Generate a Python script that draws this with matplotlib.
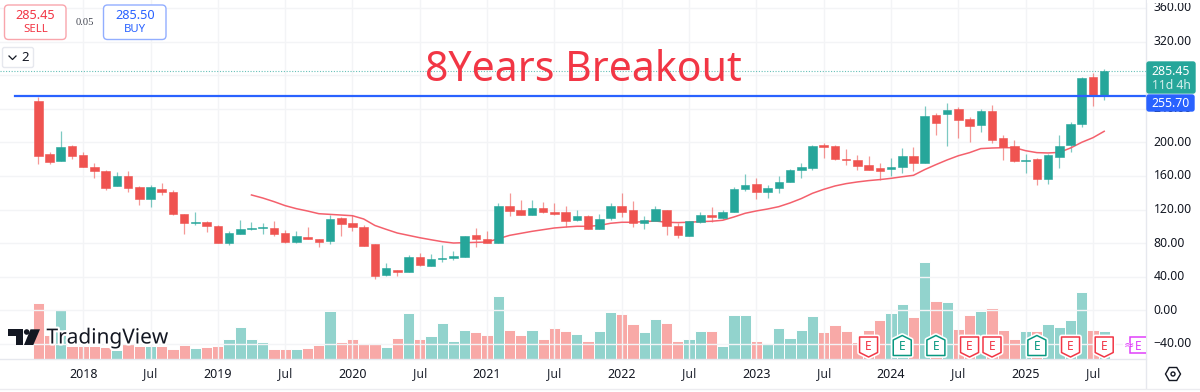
import matplotlib
matplotlib.use("Agg")
import matplotlib.pyplot as plt
import matplotlib.patheffects as pe
from matplotlib.patches import FancyBboxPatch, Polygon, Rectangle, Circle, RegularPolygon
import numpy as np

# monthly candles, Sep 2017 .. Aug 2025
opens = [249.6, 186.5, 177.8, 195.2, 184.5, 170.6, 165.9, 147.6, 160.3, 147.2, 132.5, 144.8,
         140.9, 114.7, 104.3, 105.2, 100.4, 80.2, 91.3, 97.2, 97.6, 98.4, 91.7, 81.8,
         87.2, 84.9, 82.1, 109.8, 103.5, 99.1, 78.9, 42.0, 47.9, 46.0, 63.4, 52.7,
         61.4, 62.2, 63.8, 89.6, 84.9, 80.1, 123.7, 119.4, 113.4, 121.4, 117.4, 116.6,
         107.5, 112.2, 96.8, 109.5, 124.6, 119.0, 104.0, 106.7, 119.0, 100.4, 88.5, 105.6,
         113.9, 109.9, 116.7, 144.8, 150.0, 140.9, 145.2, 153.2, 167.0, 169.4, 196.8, 196.0,
         180.2, 179.0, 173.4, 169.8, 168.3, 170.2, 183.3, 175.4, 232.9, 234.1, 239.3, 228.2,
         221.0, 236.9, 204.8, 195.2, 178.2, 180.5, 156.3, 182.9, 196.4, 222.2, 278.2, 255.9]
closes = [183.7, 177.0, 194.4, 183.7, 170.6, 165.9, 145.2, 159.5, 146.0, 132.5, 146.4, 140.9,
          114.3, 104.0, 105.2, 100.0, 80.2, 92.1, 96.8, 98.0, 99.2, 90.9, 81.0, 88.5,
          84.5, 81.3, 109.0, 102.3, 99.1, 76.9, 41.2, 49.9, 45.2, 63.0, 53.5, 61.0,
          62.2, 64.6, 88.0, 84.5, 80.1, 123.7, 118.2, 113.4, 121.4, 116.6, 115.0, 106.7,
          112.6, 96.4, 109.1, 123.8, 116.7, 104.4, 107.2, 120.6, 100.8, 89.3, 106.0, 113.9,
          111.1, 116.7, 144.8, 149.6, 140.5, 145.6, 153.2, 167.0, 170.2, 196.0, 194.4, 180.2,
          179.4, 172.2, 167.0, 165.5, 170.6, 183.7, 175.0, 231.3, 223.4, 238.5, 226.6, 219.4,
          237.7, 203.2, 194.0, 177.4, 179.0, 156.3, 184.5, 196.0, 222.2, 276.6, 255.9, 285.45]
highs = [254.4, 188.9, 213.9, 196.8, 188.9, 175.0, 167.0, 164.3, 165.9, 147.6, 149.2, 152.0,
         143.3, 114.7, 116.7, 105.9, 101.2, 94.0, 107.1, 105.2, 103.6, 106.0, 95.2, 94.0,
         98.7, 85.0, 113.8, 110.6, 113.8, 101.1, 79.3, 56.3, 48.3, 65.8, 68.6, 66.6,
         77.3, 70.2, 88.8, 97.6, 94.4, 127.3, 139.6, 131.3, 131.3, 128.9, 128.1, 124.1,
         119.0, 113.0, 115.0, 127.4, 139.3, 129.8, 112.3, 124.6, 119.4, 104.4, 106.4, 116.7,
         123.0, 119.0, 147.2, 162.3, 157.9, 148.8, 159.9, 168.3, 175.0, 196.4, 199.6, 196.8,
         192.0, 184.5, 183.3, 175.0, 181.4, 193.6, 194.4, 243.2, 234.5, 247.2, 242.4, 229.8,
         240.0, 244.8, 208.7, 202.8, 186.1, 180.9, 186.1, 208.3, 223.8, 278.2, 282.1, 286.9]
lows = [174.2, 174.2, 177.8, 179.8, 170.2, 157.5, 143.7, 147.6, 141.3, 125.8, 123.4, 137.3,
        113.9, 91.3, 101.2, 93.3, 80.2, 77.8, 91.3, 95.6, 90.9, 88.5, 80.6, 80.6,
        84.5, 75.7, 79.3, 88.4, 95.0, 76.9, 37.2, 41.2, 41.2, 46.0, 53.1, 52.3,
        57.9, 59.9, 63.8, 75.7, 79.7, 80.1, 112.6, 113.0, 113.4, 116.2, 113.8, 98.7,
        106.3, 96.4, 96.4, 108.0, 111.5, 98.8, 97.2, 106.7, 89.7, 86.1, 88.5, 104.0,
        105.6, 109.1, 116.7, 142.5, 133.0, 134.1, 140.1, 153.2, 157.5, 167.0, 181.4, 178.6,
        173.4, 167.0, 166.7, 154.8, 160.3, 163.0, 166.3, 175.4, 208.3, 195.6, 205.1, 200.4,
        212.7, 199.2, 179.4, 177.0, 163.0, 149.2, 150.0, 169.8, 188.9, 218.6, 243.6, 250.4]
# 20 month average, starts at month 19
ma_start = 19
ma20 = [137.3, 133.7, 129.4, 124.6, 121.0, 118.2, 115.0, 114.2, 113.4, 112.6, 108.7, 101.0,
        96.4, 92.0, 89.2, 86.4, 84.0, 81.7, 80.1, 80.5, 80.9, 81.3, 85.2, 89.2,
        91.6, 94.0, 96.0, 98.0, 99.1, 100.0, 100.0, 101.0, 103.6, 104.8, 104.8, 105.6,
        106.3, 104.8, 104.4, 104.8, 105.6, 106.0, 107.2, 111.1, 115.5, 118.3, 120.6, 123.4,
        127.8, 133.0, 139.3, 144.0, 148.0, 150.8, 152.8, 154.4, 155.6, 157.1, 159.0, 160.7,
        167.5, 173.4, 179.0, 184.0, 187.7, 192.5, 193.2, 193.6, 193.6, 190.0, 187.7, 187.3,
        188.0, 193.2, 200.0, 205.5, 213.1]
volumes = [56, 24.3, 49, 12.7, 12.7, 12.7, 12, 9, 15, 13, 12.7, 12.7,
           9.7, 13.7, 11, 11.7, 13.3, 20, 32, 20, 16.7, 9.7, 9.7, 9.7,
           11, 13.7, 48, 17.3, 20, 14.7, 16, 12.3, 21.3, 46.3, 20, 23.3,
           35.7, 18, 28.7, 26.7, 24, 63, 29.3, 24, 28.7, 20.3, 30.7, 28,
           24.7, 17.7, 28, 47, 45.3, 35, 26.7, 39.7, 36.3, 18, 20, 28,
           28, 13, 43.7, 43.7, 18.3, 15.7, 31.3, 21.3, 28.7, 43, 27.3, 34.3,
           28, 17.3, 28.7, 39, 46.3, 55, 42, 96.7, 58, 57, 29.7, 44,
           47.7, 51, 29, 19.7, 27.7, 28, 35, 32, 38.7, 66.7, 28.7, 27.7]

price_ticks = [-40, 0, 40, 80, 120, 160, 200, 240, 280, 320, 360]
price_labels = ["\u221240.00", "0.00", "40.00", "80.00", "120.00", "160.00", "200.00", "240.00", "280.00", "320.00", "360.00"]
month_ticks = [4, 10, 16, 22, 28, 34, 40, 46, 52, 58, 64, 70, 76, 82, 88, 94]
month_labels = ["2018", "Jul", "2019", "Jul", "2020", "Jul", "2021", "Jul",
                "2022", "Jul", "2023", "Jul", "2024", "Jul", "2025", "Jul"]
earn_up = [77, 80, 89]
earn_down = [74, 83, 85, 92, 95]
earn_next = 98
breakout = 255.70
last_price = 285.45

FONT = "Noto Sans"
RED = "#ef5350"
GREEN = "#26a69a"
VRED = "#f8a9a7"
VGREEN = "#92d3cd"
GRID = "#f3f4f6"
plt.rcParams["font.family"] = FONT

W, H = 1200, 392
fig = plt.figure(figsize=(W / 100, H / 100), dpi=100, facecolor="white")
ax = fig.add_axes([0, 33 / H, 1146 / W, 359 / H])
X0, DX = 38.3, 11.22
Y0, DY = 310.3, 0.84
ax.set_xlim(-X0 / DX, (1146 - X0) / DX)
ax.set_ylim((Y0 - 359) / DY, Y0 / DY)
ax.set_yticks(price_ticks)
ax.set_xticks(month_ticks)
ax.tick_params(length=0, labelleft=False, labelbottom=False)
ax.grid(True, color=GRID, lw=1)
ax.set_axisbelow(True)
for s in ax.spines.values():
    s.set_visible(False)

x = np.arange(len(opens))
up = np.array(closes) >= np.array(opens)
colors = [GREEN if u else RED for u in up]
vcolors = [VGREEN if u else VRED for u in up]

# volume sits on its own scale, 1 unit = 1 px of the pane
vax = ax.twinx()
vax.set_ylim(0, 359)
vax.axis("off")
vax.bar(x, volumes, width=1.0, color=vcolors, edgecolor="white", linewidth=0.7, zorder=1)
vax.set_zorder(1)
ax.set_zorder(2)
ax.patch.set_visible(False)

# candles
ax.vlines(x, lows, highs, colors=colors, lw=0.9, alpha=0.6, zorder=3)
body_lo = np.minimum(opens, closes)
body_h = np.abs(np.array(closes) - np.array(opens))
ax.bar(x, body_h, bottom=body_lo, width=0.76, color=colors, edgecolor=colors, linewidth=0.4, zorder=4)
ax.plot(x[ma_start:], ma20, color="#f4606c", lw=1.1, zorder=3.5)

ax.plot(ax.get_xlim(), [last_price, last_price], color=GREEN, lw=0.8, ls=(0, (1, 1.5)), alpha=0.7, zorder=2.5)
ax.plot([(15 - X0) / DX, ax.get_xlim()[1]], [breakout, breakout], color="#2962ff", lw=1.6, zorder=5)

# overlay in pixel coordinates for the platform furniture
ui = fig.add_axes([0, 0, 1, 1], zorder=10)
ui.set_xlim(0, W)
ui.set_ylim(H, 0)
ui.axis("off")

def xpx(i):
    return X0 + DX * i

def ypx(p):
    return Y0 - DY * p

ui.plot([1146, 1146], [0, 388], color="#e6e8ee", lw=1)
ui.plot([0, 1146], [359, 359], color="#e6e8ee", lw=1)
ui.plot([0, 1200], [388.5, 388.5], color="#ececf0", lw=1)

for m, lab in zip(month_ticks, month_labels):
    year = lab != "Jul"
    ui.text(xpx(m), 374, lab, ha="center", va="center", fontsize=9,
            color="#131722" if year else "#2a2e39", fontweight="medium" if year else "normal")
for p, lab in zip(price_ticks, price_labels):
    ui.text(1153.5, ypx(p), lab, ha="left", va="center", fontsize=8.8, color="#131722",
            zorder=2)

# price tags on the right axis
ui.add_patch(FancyBboxPatch((1147, 62), 48, 31, boxstyle="round,pad=0,rounding_size=2", fc=GREEN, ec=GREEN, lw=1, zorder=3))
ui.text(1171, 71, "285.45", color="white", fontsize=8.8, ha="center", va="center", zorder=4)
ui.text(1171, 85, "11d 4h", color="#d6f0ed", fontsize=8.8, ha="center", va="center", zorder=4)
ui.add_patch(FancyBboxPatch((1147, 95), 47, 16, boxstyle="round,pad=0,rounding_size=2", fc="#2962ff", ec="#2962ff", lw=1, zorder=3))
ui.text(1170, 103, "255.70", color="white", fontsize=8.8, ha="center", va="center", zorder=4)
ui.add_patch(Rectangle((1146.5, 0), 53, 2.5, fc="white", ec="none", zorder=3))
ui.add_patch(RegularPolygon((1173, 374), 6, radius=7.5, orientation=np.pi / 2, fc="white", ec="#131722", lw=1))
ui.add_patch(Circle((1173, 374), 2, fc="white", ec="#131722", lw=1))

# sell / buy buttons
for bx, bw, col, edge, txt, side in [(4.5, 61.5, "#f23645", "#f9a5ac", "285.45", "SELL"),
                                     (103.5, 62.5, "#2962ff", "#92aeff", "285.50", "BUY")]:
    ui.add_patch(FancyBboxPatch((bx, 5), bw, 34.5, boxstyle="round,pad=0,rounding_size=4", fc="white", ec=edge, lw=1))
    ui.text(bx + bw / 2, 15.5, txt, color=col, fontsize=9.2, ha="center", va="center", fontweight="medium")
    ui.text(bx + bw / 2, 29.5, side, color=col, fontsize=8.2, ha="center", va="center")
ui.text(85, 22.5, "0.05", color="#434651", fontsize=7.6, ha="center", va="center", family="Liberation Serif")
ui.add_patch(FancyBboxPatch((2.5, 47.5), 31, 20, boxstyle="round,pad=0,rounding_size=2", fc="white", ec="#e6e8ee", lw=1))
ui.plot([9, 12.5, 16], [56, 59.5, 56], color="#131722", lw=0.9)
ui.text(25.5, 57.5, "2", color="#131722", fontsize=9.5, ha="center", va="center")

ui.text(583, 69.5, "8Years Breakout", color="#f23645", fontsize=29.5, ha="center", va="center",
        fontweight="semibold", family="Noto Sans")

# logo
ui.add_patch(Polygon([(8.3, 329.3), (22.7, 329.3), (22.7, 345), (16, 345), (16, 335.5), (8.3, 335.5)], fc="#131722", ec="none", zorder=4))
ui.add_patch(Circle((26.7, 332), 2.8, fc="#131722", ec="none", zorder=4))
ui.add_patch(Polygon([(30.5, 329.3), (40, 329.3), (33.3, 345), (24, 345)], fc="#131722", ec="none", zorder=4))
ui.text(46.5, 338, "TradingView", color="#131722", fontsize=15, ha="left", va="center", fontweight="medium",
        family="Noto Sans", zorder=4, path_effects=[pe.withStroke(linewidth=3, foreground="white")])

# earnings badges
def badge(cx, col, pointing):
    l, r = cx - 9, cx + 9
    if pointing == "up":
        pts = [(cx, 335.5), (r, 340), (r, 355.5), (l, 355.5), (l, 340)]
        ty = 346.5
    else:
        pts = [(l, 337), (r, 337), (r, 352.5), (cx, 357), (l, 352.5)]
        ty = 346
    ui.add_patch(Polygon(pts, fc="white", ec="white", lw=3.5, joinstyle="round", zorder=3))
    ui.add_patch(Polygon(pts, fc="white", ec=col, lw=1.1, joinstyle="round", zorder=3.2))
    ui.text(cx, ty, "E", color=col, fontsize=8.6, ha="center", va="center", fontweight="medium", zorder=3.4)

for m in earn_up:
    badge(xpx(m), "#089981", "up")
for m in earn_down:
    badge(xpx(m), "#f23645", "down")
ex = xpx(earn_next)
ui.add_patch(Polygon([(1146, 337), (ex - 8, 337), (ex - 8, 352.5), (1146, 352.5)], closed=False, fc="white", ec="#e040fb", lw=1.1, zorder=3))
ui.add_patch(Rectangle((ex - 15, 343), 7, 4, fc="white", ec="none", zorder=3.1))
ui.text(ex - 8.5, 345.5, "\u2248", color="#e040fb", fontsize=9, ha="center", va="center", zorder=3.4, family="DejaVu Sans")
ui.text(ex, 346, "E", color="#e040fb", fontsize=8.6, ha="center", va="center", zorder=3.4)

fig.savefig("out.png", dpi=100)
